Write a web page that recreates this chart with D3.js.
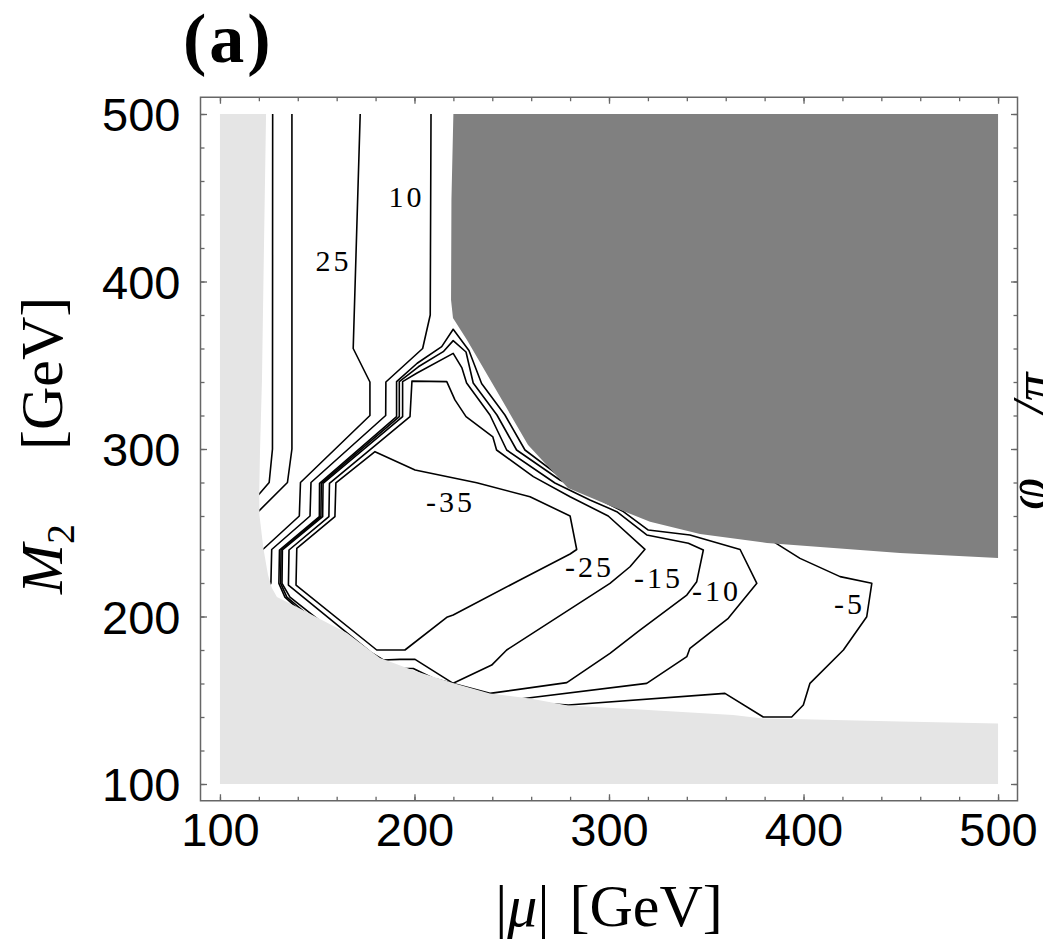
<!DOCTYPE html>
<html>
<head>
<meta charset="utf-8">
<script src="https://cdn.jsdelivr.net/npm/d3@7"></script>
<style>
  html, body { margin: 0; padding: 0; background: #ffffff; }
  svg { display: block; }
</style>
</head>
<body>
<svg id="chart" width="1043" height="944"></svg>
<script>
// ---- axis ticks ----
const majorTicks = [100, 200, 300, 400, 500];
const minorTicks = d3.range(100, 501, 20);

// ---- excluded regions, [|mu|, M2] in GeV ----
const lightRegion = [[100,500],[123.7,500],[122.6,418.8],[121.6,341.2],[120.6,299.4],[120.2,273.7],
  [120.3,260.6],[122.3,240.9],[124.7,224.8],[126.7,217],[129.3,211.6],[139.6,205.7],[151.4,198.5],
  [165.3,190.1],[182.3,175.2],[200.3,167.5],[219.8,160.3],[238.8,154],[259.4,151.1],[278.9,146.9],
  [315.9,144.5],[363.8,141.2],[379.2,139.1],[394.1,138.8],[449.6,137.3],[500,136.1],[500,100],[100,100]];

const darkRegion = [[220,500],[500,500],[500,234.9],[449.6,237.9],[381.2,243.9],[346.8,249.3],
  [321.1,256.6],[302.1,265.4],[278.9,276.7],[258.4,302.4],[241.4,336.4],[227,365.1],[219.8,378.2],
  [218.8,389],[219,448.7]];

// ---- contour lines, [|mu|, M2] in GeV ----
const lineA = [[127.1,500],[127.0,300],[125.3,280],[120.2,273.1],[117,269]];
const lineB = [[137.0,500],[137.0,300],[134.7,280],[120.2,263.2],[117,260]];
const line25 = [[172.1,500],[168.5,360],[177.1,340],[177.1,320],[141.4,280],[140.8,260],[122.6,240.6],[119,237]];
const line10 = [[208.5,500],[208.1,380],[204.2,360],[185.3,340],[185.2,320],[146.8,280],[146.3,260],
  [126.6,240],[126.2,220],[124,214]];
const lineM5 = [[219.9,371.5],[214.0,361.1],[201.4,351.2],[190.8,340.2],[190.8,319.3],[151.2,279.5],
  [151.1,259.6],[130.6,239.7],[130.3,219.8],[133.4,211.6],[178.1,164.5],[218.3,151.9],[279.1,147.2],
  [359.6,154.1],[379.3,140],[393.9,140],[399.9,147.2],[403.3,160.1],[420.5,180],[432.5,199.9],
  [435.1,219.8],[418.8,223.8],[398.2,234.7],[384.5,244.7],[346.8,251.6],[321.1,259.4],[295.4,271.3],
  [275.8,282.7],[256.8,299.4],[246.5,320.3],[234.5,339.1],[228,358.8]];
const lineM10 = [[219.9,364.7],[214.8,358.1],[202.0,349.1],[192.2,340.2],[192.2,319.3],[152.1,279.5],
  [151.9,259.6],[131.4,239.7],[131.2,219.8],[134.4,211.6],[179.7,166.9],[199.2,165.7],[213.1,157.3],
  [254.2,150.7],[319.4,160.1],[340.0,176.0],[341.6,181.0],[361.3,198.9],[376.0,219.8],[367.4,240.0],
  [341.6,248.7],[320.2,251.6],[307.4,262.6],[292.8,271.3],[274.8,281.5],[252.5,299.4],[242.4,320.3],
  [230.2,339.4],[226.5,357.9]];
const lineM15 = [[219.9,357.1],[201.1,345.2],[193.9,340.2],[193.9,319.3],[153.0,279.5],[152.8,259.6],
  [132.1,239.7],[131.9,219.8],[136.0,211.6],[181.2,169.9],[194.2,169.1],[199.4,169.0],[209.7,163.1],
  [238.8,154.1],[278.3,160.5],[300.5,178.0],[315.9,191.9],[322.8,197.9],[340.0,212.8],[345.1,220.8],
  [348.5,239.7],[340.8,243.7],[319.4,248.7],[304.0,262.6],[290.2,269.6],[272.2,279.7],[247.4,299.4],
  [238.8,320.3],[226.8,339.4],[224.4,348.4]];
const lineM25 = [[135.2,218.8],[135.5,239.7],[156.0,259.6],[156.3,279.5],[197.7,319.3],[198.7,340.5],
  [216.6,340.2],[220.8,329.3],[226.5,319.3],[240.3,307.2],[242.2,299.4],[261.1,283.5],[280.0,271.5],
  [299.6,260.0],[318.5,240.1],[310.8,229.7],[300.5,219.8],[247.4,180.0],[239.7,171.0],[219.9,160.1],
  [200.3,174.4],[192.5,174.4],[184.0,174.0],[178.1,178.2]];
const lineM35 = [[179.7,298.4],[200.3,287.5],[232.0,279.8],[259.4,271.5],[280.0,260.0],[283.4,240.0],
  [280.0,237.3],[254.2,221.8],[219.9,200.9],[216.6,199.5],[195.1,180.0],[180.6,180.0],[139.1,218.8],
  [139.5,240.7],[159.1,259.6],[159.6,279.8]];

const contours = [
  { level: null, points: lineA,   closed: false },
  { level: null, points: lineB,   closed: false },
  { level: 25,   points: line25,  closed: false },
  { level: 10,   points: line10,  closed: false },
  { level: -5,   points: lineM5,  closed: true },
  { level: -10,  points: lineM10, closed: true },
  { level: -15,  points: lineM15, closed: true },
  { level: -25,  points: lineM25, closed: true },
  { level: -35,  points: lineM35, closed: true }
];

// label anchor points (centre of the text) for each labelled level
const contourLabels = [
  { level: 10,  mu: 195.1, m2: 451.0 },
  { level: 25,  mu: 157.6, m2: 412.8 },
  { level: -35, mu: 217.7, m2: 268.4 },
  { level: -25, mu: 289.2, m2: 229.6 },
  { level: -15, mu: 324.7, m2: 223.0 },
  { level: -10, mu: 354.5, m2: 215.8 },
  { level: -5,  mu: 422.9, m2: 208.0 }
];

// ---- drawing ----
const svg = d3.select("#chart");
const x = d3.scaleLinear().domain([90, 510]).range([200.5, 1017.5]);
const y = d3.scaleLinear().domain([90, 510]).range([800.75, 97.25]);

const open = d3.line().x(d => x(d[0])).y(d => y(d[1]));
const closedLine = d3.line().x(d => x(d[0])).y(d => y(d[1])).curve(d3.curveLinearClosed);

const plot = svg.append("g");

plot.selectAll("path.contour")
  .data(contours)
  .join("path")
  .attr("class", "contour")
  .attr("d", c => (c.closed ? closedLine : open)(c.points))
  .attr("fill", "none")
  .attr("stroke", "#000")
  .attr("stroke-width", 1.6)
  .attr("stroke-linejoin", "round");

plot.append("path")
  .attr("d", closedLine(lightRegion))
  .attr("fill", "#e5e5e5");

plot.append("path")
  .attr("d", closedLine(darkRegion))
  .attr("fill", "#808080");

plot.selectAll("text.clabel")
  .data(contourLabels)
  .join("text")
  .attr("class", "clabel")
  .attr("x", d => x(d.mu) + 1.5)
  .attr("y", d => y(d.m2))
  .attr("dy", "0.35em")
  .attr("text-anchor", "middle")
  .attr("font-family", "'Liberation Serif', 'DejaVu Serif', serif")
  .attr("font-size", 30)
  .attr("letter-spacing", 3)
  .attr("fill", "#000")
  .text(d => String(d.level));

// frame
svg.append("rect")
  .attr("x", x(90)).attr("y", y(510))
  .attr("width", x(510) - x(90)).attr("height", y(90) - y(510))
  .attr("fill", "none").attr("stroke", "#666").attr("stroke-width", 1.5);

function styleAxis(g) {
  g.select(".domain").remove();
  g.selectAll(".tick line").attr("stroke", "#666").attr("stroke-width", 1.3);
}

// minor ticks on all four sides
svg.append("g").attr("transform", `translate(0,${y(90)})`)
  .call(d3.axisBottom(x).tickValues(minorTicks).tickSize(-4).tickFormat("")).call(styleAxis);
svg.append("g").attr("transform", `translate(0,${y(510)})`)
  .call(d3.axisTop(x).tickValues(minorTicks).tickSize(-4).tickFormat("")).call(styleAxis);
svg.append("g").attr("transform", `translate(${x(90)},0)`)
  .call(d3.axisLeft(y).tickValues(minorTicks).tickSize(-4).tickFormat("")).call(styleAxis);
svg.append("g").attr("transform", `translate(${x(510)},0)`)
  .call(d3.axisRight(y).tickValues(minorTicks).tickSize(-4).tickFormat("")).call(styleAxis);

// major ticks, labelled on bottom and left
const tickFont = "'Liberation Sans', Arial, sans-serif";
const bottom = svg.append("g").attr("transform", `translate(0,${y(90)})`)
  .call(d3.axisBottom(x).tickValues(majorTicks).tickSize(-6.5).tickFormat(d3.format("d"))).call(styleAxis);
bottom.attr("font-family", tickFont).attr("font-size", 47);
bottom.selectAll("text").attr("y", 45.5).attr("dy", 0).attr("fill", "#000");

const left = svg.append("g").attr("transform", `translate(${x(90)},0)`)
  .call(d3.axisLeft(y).tickValues(majorTicks).tickSize(-6.5).tickFormat(d3.format("d"))).call(styleAxis);
left.attr("font-family", tickFont).attr("font-size", 47);
left.selectAll("text").attr("x", -20).attr("dy", "0.36em").attr("fill", "#000");

svg.append("g").attr("transform", `translate(0,${y(510)})`)
  .call(d3.axisTop(x).tickValues(majorTicks).tickSize(-6.5).tickFormat("")).call(styleAxis);
svg.append("g").attr("transform", `translate(${x(510)},0)`)
  .call(d3.axisRight(y).tickValues(majorTicks).tickSize(-6.5).tickFormat("")).call(styleAxis);

// titles
const serif = "'Liberation Serif', 'DejaVu Serif', serif";

svg.append("text")
  .attr("x", 183).attr("y", 62)
  .attr("font-family", serif).attr("font-weight", "bold")
  .attr("font-size", 70).attr("letter-spacing", 3)
  .text("(a)");

const xt = svg.append("text")
  .attr("x", (x(90) + x(510)) / 2).attr("y", 926)
  .attr("text-anchor", "middle")
  .attr("font-family", serif).attr("font-size", 60);
xt.append("tspan").text("|");
xt.append("tspan").attr("font-style", "italic").text("μ");
xt.append("tspan").text("|");
xt.append("tspan").attr("dx", 20).text("[GeV]");

const yt = svg.append("text")
  .attr("transform", "translate(62,594) rotate(-90)")
  .attr("font-family", serif).attr("font-size", 60);
yt.append("tspan").attr("font-style", "italic").text("M");
yt.append("tspan").attr("font-size", 40).attr("dy", 12).text("2");
yt.append("tspan").attr("dy", -12).attr("dx", 74).text("[GeV]");

// neighbouring axis title, cut by the right edge
const rt = svg.append("text")
  .attr("transform", "translate(1052,510) rotate(-90)")
  .attr("font-family", serif).attr("font-size", 58).attr("font-style", "italic");
rt.append("tspan").attr("dy", -6).text("φ");
rt.append("tspan").attr("font-size", 40).attr("dy", 18).text("μ");
rt.append("tspan").attr("dy", -12).attr("dx", 40).text("/π");
</script>
</body>
</html>
